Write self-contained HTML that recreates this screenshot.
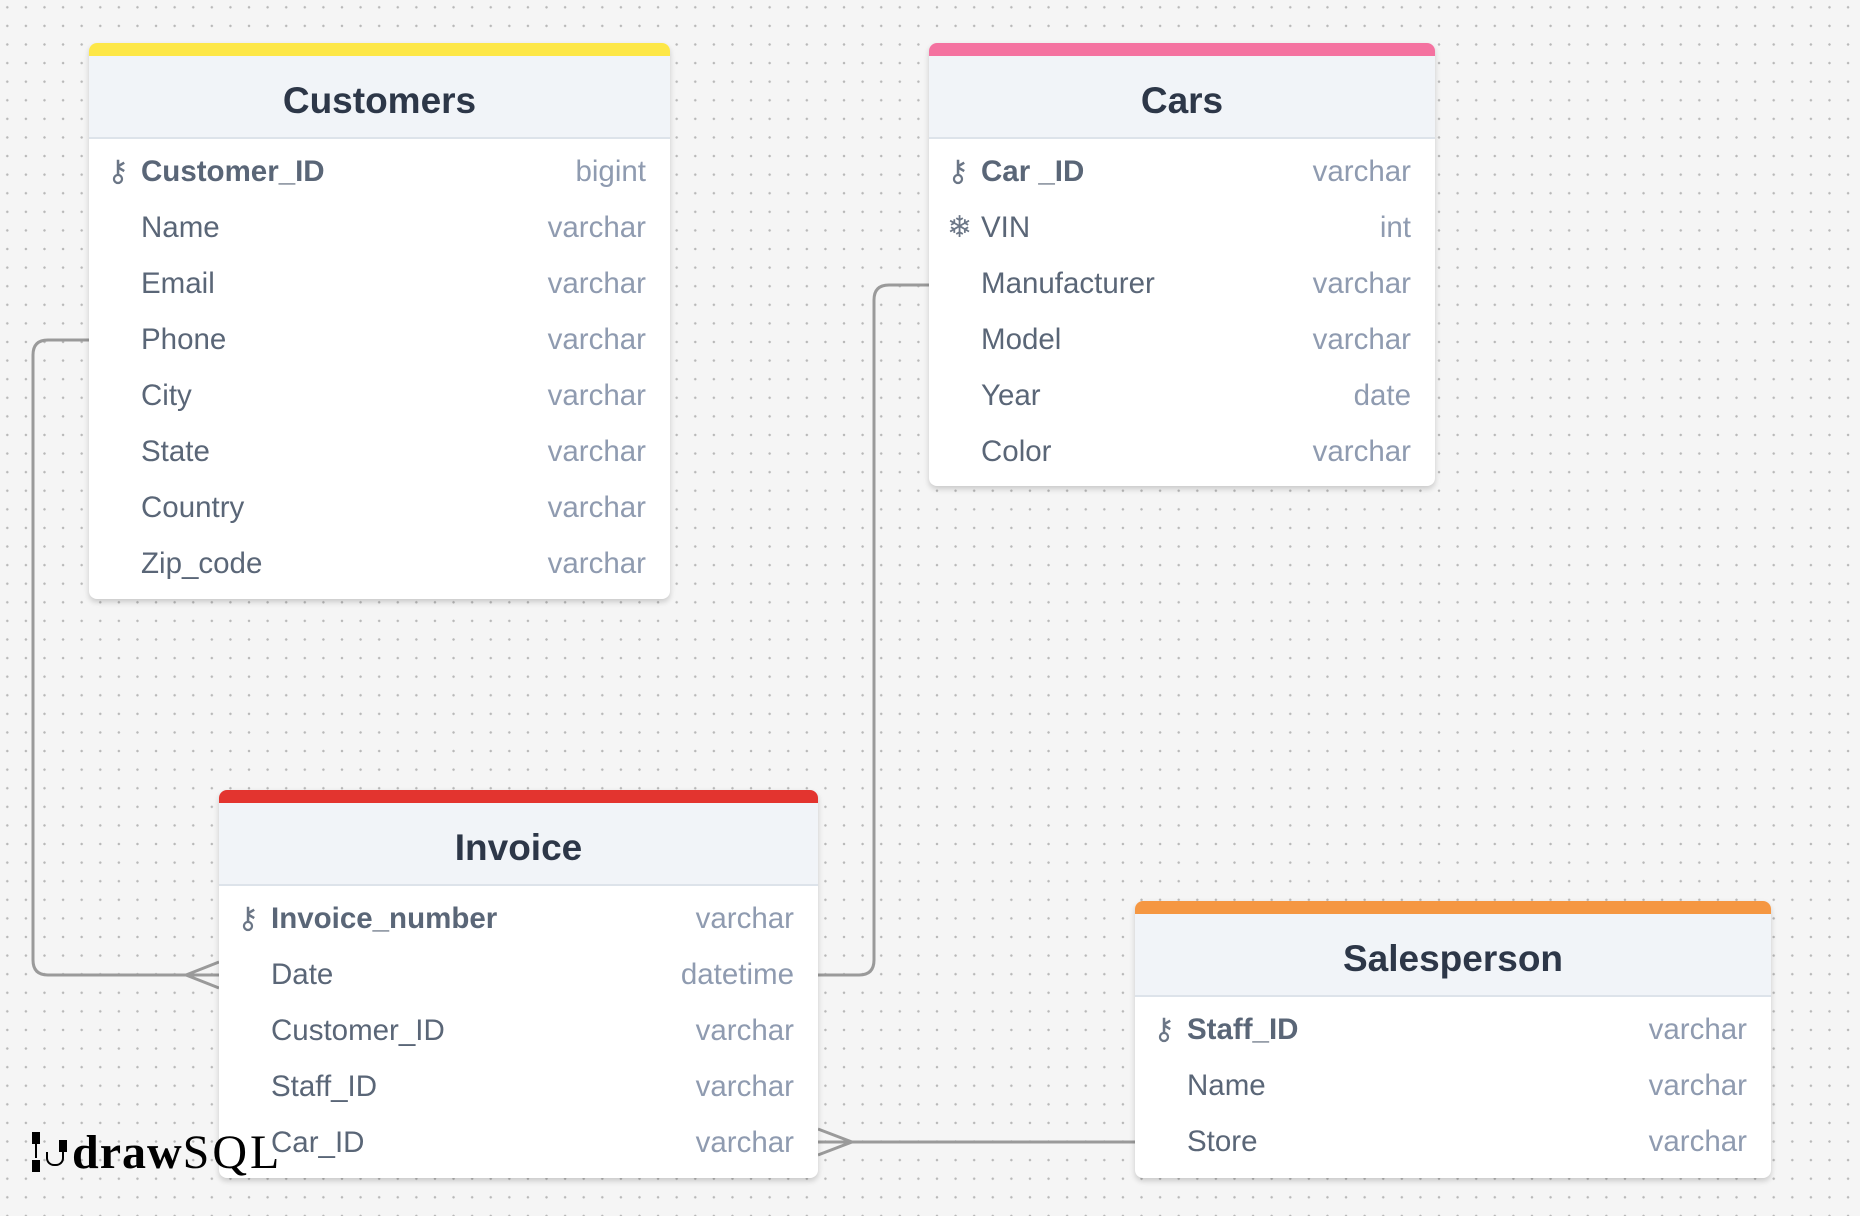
<!DOCTYPE html>
<html><head><meta charset="utf-8"><style>
*{margin:0;padding:0;box-sizing:border-box}
body{width:1860px;height:1216px;overflow:hidden;background:#f5f5f5;background-image:radial-gradient(circle,#b8b8b8 1.1px,transparent 1.4px);background-size:18.6px 18.6px;background-position:-2px -2px;font-family:"Liberation Sans",sans-serif;position:relative}
.t{position:absolute;background:#fff;border-radius:8px;box-shadow:0 3px 6px rgba(0,0,0,.18);overflow:hidden}
.bar{height:13px}
.h{height:83px;background:#f1f4f8;border-bottom:2px solid #dde3ea;text-align:center;line-height:89px;font-weight:bold;font-size:37px;color:#2d3748}
.b{padding-top:5px}
.r{height:56px;position:relative;font-size:29.5px;line-height:56px;color:#5a6677}
.r .n{position:absolute;left:52px}
.r .ty{position:absolute;right:24px;color:#8f9bb0}
.r.k .n{font-weight:bold}
.r .i{position:absolute;left:18px;top:0;font-size:30px;color:#6b7686}
svg{position:absolute;left:0;top:0}
</style></head><body>
<svg width="1860" height="1216">
<g fill="none" stroke="#9a9a9a" stroke-width="3">
<path d="M89 340 H48 Q33 340 33 355 V960 Q33 975 48 975 H219"/>
<path d="M186 975 L219 962 M186 975 L219 988"/>
<path d="M929 285 H889 Q874 285 874 300 V960 Q874 975 859 975 H818"/>
<path d="M818 1142 H1135"/>
<path d="M852 1142 L818 1129 M852 1142 L818 1155"/>
</g>
</svg>

<div class="t" style="left:89px;top:43px;width:581px;height:556px">
<div class="bar" style="background:#fde747"></div>
<div class="h">Customers</div>
<div class="b">
<div class="r k"><span class="i">&#x26B7;</span><span class="n">Customer_ID</span><span class="ty">bigint</span></div>
<div class="r"><span class="n">Name</span><span class="ty">varchar</span></div>
<div class="r"><span class="n">Email</span><span class="ty">varchar</span></div>
<div class="r"><span class="n">Phone</span><span class="ty">varchar</span></div>
<div class="r"><span class="n">City</span><span class="ty">varchar</span></div>
<div class="r"><span class="n">State</span><span class="ty">varchar</span></div>
<div class="r"><span class="n">Country</span><span class="ty">varchar</span></div>
<div class="r"><span class="n">Zip_code</span><span class="ty">varchar</span></div>
</div></div>

<div class="t" style="left:929px;top:43px;width:506px;height:443px">
<div class="bar" style="background:#f472a0"></div>
<div class="h">Cars</div>
<div class="b">
<div class="r k"><span class="i">&#x26B7;</span><span class="n">Car _ID</span><span class="ty">varchar</span></div>
<div class="r"><span class="i">&#x2744;</span><span class="n">VIN</span><span class="ty">int</span></div>
<div class="r"><span class="n">Manufacturer</span><span class="ty">varchar</span></div>
<div class="r"><span class="n">Model</span><span class="ty">varchar</span></div>
<div class="r"><span class="n">Year</span><span class="ty">date</span></div>
<div class="r"><span class="n">Color</span><span class="ty">varchar</span></div>
</div></div>

<div class="t" style="left:219px;top:790px;width:599px;height:388px">
<div class="bar" style="background:#e3342f"></div>
<div class="h">Invoice</div>
<div class="b">
<div class="r k"><span class="i">&#x26B7;</span><span class="n">Invoice_number</span><span class="ty">varchar</span></div>
<div class="r"><span class="n">Date</span><span class="ty">datetime</span></div>
<div class="r"><span class="n">Customer_ID</span><span class="ty">varchar</span></div>
<div class="r"><span class="n">Staff_ID</span><span class="ty">varchar</span></div>
<div class="r"><span class="n">Car_ID</span><span class="ty">varchar</span></div>
</div></div>

<div class="t" style="left:1135px;top:901px;width:636px;height:277px">
<div class="bar" style="background:#f59742"></div>
<div class="h">Salesperson</div>
<div class="b">
<div class="r k"><span class="i">&#x26B7;</span><span class="n">Staff_ID</span><span class="ty">varchar</span></div>
<div class="r"><span class="n">Name</span><span class="ty">varchar</span></div>
<div class="r"><span class="n">Store</span><span class="ty">varchar</span></div>
</div></div>

<div style="position:absolute;left:32px;top:1126px;height:54px;font-size:48px;line-height:54px;white-space:nowrap">
<span style="display:inline-block;width:40px;height:40px;position:relative;vertical-align:-4px">
<span style="position:absolute;left:0;top:0;width:8px;height:12px;background:#000"></span>
<span style="position:absolute;left:0;top:28px;width:8px;height:12px;background:#000"></span>
<span style="position:absolute;left:3px;top:12px;width:2px;height:14px;background:#000"></span>
<span style="position:absolute;left:27px;top:8px;width:8px;height:12px;background:#000"></span>
<span style="position:absolute;left:14px;top:20px;width:18px;height:14px;border:2px solid #000;border-top:none;border-radius:0 0 8px 8px"></span>
</span><span style="font-family:'Liberation Serif',serif;font-weight:bold;color:#000;letter-spacing:1px">draw</span><span style="font-family:'Liberation Serif',serif;color:#000;font-weight:normal;letter-spacing:3px">SQL</span>
</div>
</body></html>
